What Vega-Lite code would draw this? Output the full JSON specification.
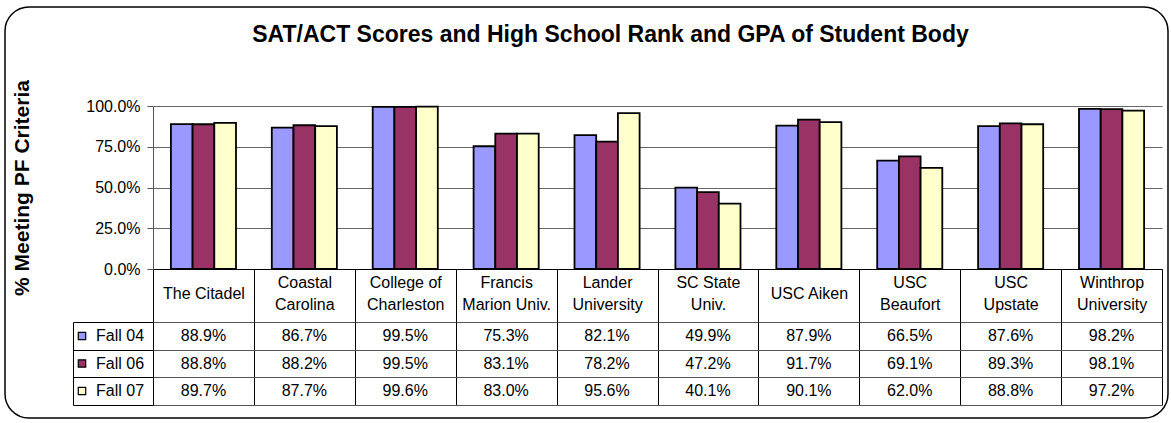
{
  "$schema": "https://vega.github.io/schema/vega-lite/v6.json",
  "width": 1163,
  "height": 411,
  "autosize": {"type": "none"},
  "padding": {"left": 5, "top": 7, "right": 3, "bottom": 5},
  "background": "white",
  "title": {
    "text": "SAT/ACT Scores and High School Rank and GPA of Student Body",
    "fontSize": 23,
    "fontWeight": "bold",
    "color": "black",
    "anchor": "middle",
    "frame": "group",
    "offset": -40,
    "dx": 24
  },
  "data": {
    "values": [
      {"school": "The Citadel", "series": "Fall 04", "value": 0.889},
      {"school": "The Citadel", "series": "Fall 06", "value": 0.888},
      {"school": "The Citadel", "series": "Fall 07", "value": 0.897},
      {"school": "Coastal Carolina", "series": "Fall 04", "value": 0.867},
      {"school": "Coastal Carolina", "series": "Fall 06", "value": 0.882},
      {"school": "Coastal Carolina", "series": "Fall 07", "value": 0.877},
      {"school": "College of Charleston", "series": "Fall 04", "value": 0.995},
      {"school": "College of Charleston", "series": "Fall 06", "value": 0.995},
      {"school": "College of Charleston", "series": "Fall 07", "value": 0.996},
      {"school": "Francis Marion Univ.", "series": "Fall 04", "value": 0.753},
      {"school": "Francis Marion Univ.", "series": "Fall 06", "value": 0.831},
      {"school": "Francis Marion Univ.", "series": "Fall 07", "value": 0.830},
      {"school": "Lander University", "series": "Fall 04", "value": 0.821},
      {"school": "Lander University", "series": "Fall 06", "value": 0.782},
      {"school": "Lander University", "series": "Fall 07", "value": 0.956},
      {"school": "SC State Univ.", "series": "Fall 04", "value": 0.499},
      {"school": "SC State Univ.", "series": "Fall 06", "value": 0.472},
      {"school": "SC State Univ.", "series": "Fall 07", "value": 0.401},
      {"school": "USC Aiken", "series": "Fall 04", "value": 0.879},
      {"school": "USC Aiken", "series": "Fall 06", "value": 0.917},
      {"school": "USC Aiken", "series": "Fall 07", "value": 0.901},
      {"school": "USC Beaufort", "series": "Fall 04", "value": 0.665},
      {"school": "USC Beaufort", "series": "Fall 06", "value": 0.691},
      {"school": "USC Beaufort", "series": "Fall 07", "value": 0.620},
      {"school": "USC Upstate", "series": "Fall 04", "value": 0.876},
      {"school": "USC Upstate", "series": "Fall 06", "value": 0.893},
      {"school": "USC Upstate", "series": "Fall 07", "value": 0.888},
      {"school": "Winthrop University", "series": "Fall 04", "value": 0.982},
      {"school": "Winthrop University", "series": "Fall 06", "value": 0.981},
      {"school": "Winthrop University", "series": "Fall 07", "value": 0.972}
    ]
  },
  "layer": [
    {
      "mark": {"type": "bar", "stroke": "black", "strokeWidth": 1.8},
      "encoding": {
        "x": {
          "field": "school", "type": "nominal", "sort": null,
          "scale": {"range": [148, 1157], "paddingInner": 0, "paddingOuter": 0},
          "axis": {
            "orient": "bottom", "offset": -149, "title": null,
            "domain": true, "domainColor": "black", "domainWidth": 1,
            "ticks": true, "tickBand": "extent", "tickSize": 53, "tickColor": "black", "tickWidth": 1,
            "labelAngle": 0, "labelFontSize": 16, "labelColor": "black",
            "labelBaseline": {"condition": {"test": "datum.value == 'The Citadel' || datum.value == 'USC Aiken'", "value": "middle"}, "value": "line-bottom"},
            "labelPadding": -29, "labelLineHeight": 22,
            "labelExpr": "datum.value == 'Coastal Carolina' ? ['Coastal', 'Carolina'] : datum.value == 'College of Charleston' ? ['College of', 'Charleston'] : datum.value == 'Francis Marion Univ.' ? ['Francis', 'Marion Univ.'] : datum.value == 'Lander University' ? ['Lander', 'University'] : datum.value == 'SC State Univ.' ? ['SC State', 'Univ.'] : datum.value == 'USC Beaufort' ? ['USC', 'Beaufort'] : datum.value == 'USC Upstate' ? ['USC', 'Upstate'] : datum.value == 'Winthrop University' ? ['Winthrop', 'University'] : datum.value",
            "grid": false
          }
        },
        "xOffset": {
          "field": "series", "type": "nominal",
          "scale": {"paddingInner": 0, "paddingOuter": 0.825}
        },
        "y": {
          "field": "value", "type": "quantitative",
          "scale": {"domain": [0, 1], "range": [262, 99], "nice": false},
          "axis": {
            "orient": "left", "offset": -148,
            "values": [0, 0.25, 0.5, 0.75, 1], "format": ".1%",
            "title": "% Meeting PF Criteria", "titleFontSize": 21, "titleFontWeight": "bold",
            "titleColor": "black", "titlePadding": 53,
            "grid": true, "gridColor": "#666", "gridWidth": 1,
            "domainColor": "#555", "tickColor": "#555", "tickSize": 6,
            "labelPadding": 7, "labelFontSize": 16, "labelColor": "black"
          }
        },
        "fill": {
          "field": "series", "type": "nominal",
          "scale": {"domain": ["Fall 04", "Fall 06", "Fall 07"], "range": ["#9999FF", "#993366", "#FFFFCC"]},
          "legend": {
            "orient": "none", "legendX": 69, "legendY": 321, "title": null,
            "symbolType": "square", "symbolSize": 55, "symbolStrokeColor": "black", "symbolStrokeWidth": 1.2,
            "labelFontSize": 16, "labelColor": "black", "labelOffset": 6, "rowPadding": 11.5, "padding": 0
          }
        }
      }
    },
    {
      "mark": {"type": "text", "fontSize": 16, "color": "black"},
      "encoding": {
        "x": {
          "field": "school", "type": "nominal", "sort": null,
          "scale": {"type": "band", "range": [148, 1157], "paddingInner": 0, "paddingOuter": 0},
          "axis": {
            "orient": "top", "title": null, "labels": false, "ticks": false, "domain": false,
            "grid": true, "tickBand": "extent", "gridColor": "black", "gridWidth": 1
          }
        },
        "y": {
          "field": "series", "type": "nominal",
          "scale": {"type": "band", "range": [315, 398], "paddingInner": 0, "paddingOuter": 0},
          "axis": {
            "orient": "left", "offset": -68, "title": null, "labels": false,
            "domain": true, "domainColor": "black", "domainWidth": 1,
            "ticks": true, "tickBand": "extent", "tickSize": -80, "tickColor": "black", "tickWidth": 1,
            "grid": true, "gridColor": "#555", "gridWidth": 1
          }
        },
        "text": {"field": "value", "type": "quantitative", "format": ".1%"}
      }
    }
  ],
  "resolve": {
    "scale": {"x": "independent", "y": "independent"},
    "axis": {"x": "independent", "y": "independent"}
  },
  "config": {
    "font": "Liberation Sans",
    "view": {"stroke": "black", "strokeWidth": 1.5, "cornerRadius": 24, "fill": "white"}
  }
}
